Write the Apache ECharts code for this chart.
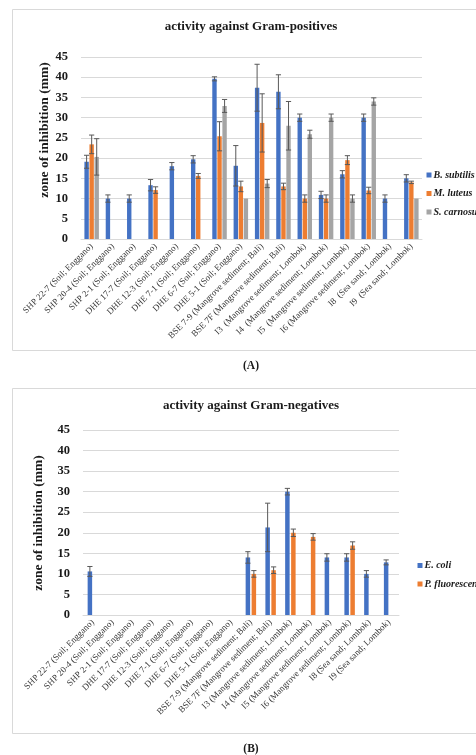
<!DOCTYPE html>
<html>
<head>
<meta charset="utf-8">
<script src="https://cdn.jsdelivr.net/npm/echarts@6/dist/echarts.min.js"></script>
<style>
  html, body { margin: 0; padding: 0; background: #fff; }
  #chart { width: 476px; height: 755px; }
</style>
</head>
<body>
<div id="chart"></div>
<script>
// Strain labels (isolation source; location)
const categoriesA = [
  'SHP 22-7 (Soil; Enggano)', 'SHP 20-4 (Soil; Enggano)', 'SHP 2-1 (Soil; Enggano)',
  'DHE 17-7 (Soil; Enggano)', 'DHE 12-3 (Soil; Enggano)', 'DHE 7-1 (Soil; Enggano)',
  'DHE 6-7 (Soil; Enggano)', 'DHE 5-1 (Soil; Enggano)', 'BSE 7-9 (Mangrove sediment; Bali)',
  'BSE 7F (Mangrove sediment; Bali)', 'I3  (Mangrove sediment; Lombok)', 'I4  (Mangrove sediment; Lombok)',
  'I5  (Mangrove sediment; Lombok)', 'I6 (Mangrove sediment; Lombok)', 'I8  (Sea sand; Lombok)',
  'I9  (Sea sand; Lombok)'
];
const categoriesB = [
  'SHP 22-7 (Soil; Enggano)', 'SHP 20-4 (Soil; Enggano)', 'SHP 2-1 (Soil; Enggano)',
  'DHE 17-7 (Soil; Enggano)', 'DHE 12-3 (Soil; Enggano)', 'DHE 7-1 (Soil; Enggano)',
  'DHE 6-7 (Soil; Enggano)', 'DHE 5-1 (Soil; Enggano)', 'BSE 7-9 (Mangrove sediment; Bali)',
  'BSE 7F (Mangrove sediment; Bali)', 'I3 (Mangrove sediment; Lombok)', 'I4 (Mangrove sediment; Lombok)',
  'I5 (Mangrove sediment; Lombok)', 'I6 (Mangrove sediment; Lombok)', 'I8 (Sea sand; Lombok)',
  'I9 (Sea sand; Lombok)'
];

// Gram-positive test organisms: mean zone (mm) and standard deviation
const subtilis     = [19.1, 10, 10, 13.3, 18, 19.7, 39.6, 18.1, 37.4, 36.4, 30, 10.9, 16, 30, 10, 15];
const subtilisErr  = [1.6, 0.9, 0.9, 1.4, 0.9, 0.9, 0.5, 5, 5.8, 4.2, 0.9, 0.9, 0.9, 0.9, 0.9, 0.9];
const luteus       = [23.4, 0, 0, 12.1, 0, 15.6, 25.4, 13, 28.7, 13, 10, 10, 19.5, 12, 0, 14];
const luteusErr    = [2.3, 0, 0, 0.8, 0, 0.6, 3.6, 1.3, 7.2, 0.8, 0.9, 0.9, 1.1, 0.8, 0, 0.3];
const carnosus     = [20.3, 0, 0, 0, 0, 0, 32.9, 10, 13.7, 28, 25.9, 30, 10, 34, 0, 10];
const carnosusErr  = [4.5, 0, 0, 0, 0, 0, 1.6, 0, 1, 6, 1, 0.9, 0.9, 0.9, 0, 0];

// Gram-negative test organisms
const ecoli        = [10.6, 0, 0, 0, 0, 0, 0, 0, 14, 21.3, 30, 0, 14, 14, 10, 12.8];
const ecoliErr     = [1.2, 0, 0, 0, 0, 0, 0, 0, 1.4, 5.9, 0.8, 0, 0.9, 0.9, 0.8, 0.6];
const fluorescens  = [0, 0, 0, 0, 0, 0, 0, 0, 10, 10.9, 20, 19, 0, 16.9, 0, 0];
const fluorescensErr = [0, 0, 0, 0, 0, 0, 0, 0, 0.8, 0.8, 0.9, 0.8, 0, 0.9, 0, 0];

const yTicks = { min: 0, max: 45, interval: 5 };

const FONT = 'Liberation Serif';
const BLUE = '#4472C4', ORANGE = '#ED7D31', GRAY = '#A5A5A5';
const GRID_LINE = '#d9d9d9';
const ERR_COLOR = '#595959';

// Error-bar renderer that places whiskers over the matching bar in a group
function errorBars(index, count, catGap, barGap) {
  return function (params, api) {
    const err = api.value(2);
    if (!err) return null;
    const cat = api.value(0), val = api.value(1);
    const band = api.size([1, 0])[0];
    const usable = band * (1 - catGap);
    const w = usable / (count + (count - 1) * barGap);
    const x = api.coord([cat, val])[0] - usable / 2 + index * w * (1 + barGap) + w / 2;
    const yHi = api.coord([cat, val + err])[1];
    const yLo = api.coord([cat, Math.max(val - err, 0)])[1];
    const cap = 2.6;
    const style = { stroke: ERR_COLOR, lineWidth: 1 };
    return {
      type: 'group',
      children: [
        { type: 'line', shape: { x1: x, y1: yHi, x2: x, y2: yLo }, style },
        { type: 'line', shape: { x1: x - cap, y1: yHi, x2: x + cap, y2: yHi }, style },
        { type: 'line', shape: { x1: x - cap, y1: yLo, x2: x + cap, y2: yLo }, style }
      ]
    };
  };
}

function errData(vals, errs) {
  return vals.map((v, i) => [i, v, errs[i]]);
}

const GAP_A = 0.32, BARGAP_A = 0.15;
const GAP_B = 0.47, BARGAP_B = 0.33;

function barSeries(name, data, axis, color, catGap, barGap) {
  return {
    name, type: 'bar', xAxisIndex: axis, yAxisIndex: axis, data,
    itemStyle: { color },
    barCategoryGap: (catGap * 100) + '%', barGap: (barGap * 100) + '%',
    animation: false
  };
}
function errSeries(vals, errs, axis, idx, count, catGap, barGap) {
  return {
    type: 'custom', xAxisIndex: axis, yAxisIndex: axis,
    data: errData(vals, errs), encode: { x: 0, y: 1 },
    renderItem: errorBars(idx, count, catGap, barGap),
    z: 5, silent: true, animation: false
  };
}

function xAxisFor(grid, data) {
  return {
    type: 'category', gridIndex: grid, data,
    axisTick: { show: false },
    axisLine: { lineStyle: { color: GRID_LINE, width: 1 } },
    axisLabel: { interval: 0, rotate: 45, margin: 6, fontFamily: FONT, fontSize: 9, color: '#333' }
  };
}
function yAxisFor(grid) {
  return {
    type: 'value', gridIndex: grid, min: yTicks.min, max: yTicks.max, interval: yTicks.interval,
    axisLine: { show: false }, axisTick: { show: false },
    splitLine: { lineStyle: { color: GRID_LINE, width: 1 } },
    axisLabel: { margin: 13, fontFamily: FONT, fontSize: 12.5, fontWeight: 'bold', color: '#1a1a1a' }
  };
}

function label(text, x, y, size, opts) {
  return Object.assign({
    type: 'text', x, y,
    style: { text, fontFamily: FONT, fontSize: size, fontWeight: 'bold', fill: '#1a1a1a',
             textAlign: 'center', textVerticalAlign: 'middle' }
  }, opts || {});
}

const legendText = { fontFamily: FONT, fontSize: 10, fontStyle: 'italic', fontWeight: 'bold', color: '#1a1a1a', padding: [0, 0, 0, -3] };

const chart = echarts.init(document.getElementById('chart'), null, { renderer: 'canvas' });
chart.setOption({
  backgroundColor: '#fff',
  animation: false,
  grid: [
    { left: 81, top: 57, width: 341, height: 182 },
    { left: 83, top: 430, width: 316, height: 185 }
  ],
  xAxis: [xAxisFor(0, categoriesA), xAxisFor(1, categoriesB)],
  yAxis: [yAxisFor(0), yAxisFor(1)],
  legend: [
    {
      data: ['B. subtilis', 'M. luteus', 'S. carnosus'], orient: 'vertical', padding: 0,
      left: 426.5, top: 170, itemWidth: 5, itemHeight: 5, itemGap: 8.5, icon: 'rect',
      textStyle: legendText
    },
    {
      data: ['E. coli', 'P. fluorescens'], orient: 'vertical', padding: 0,
      left: 417.5, top: 560.5, itemWidth: 5, itemHeight: 5, itemGap: 8.5, icon: 'rect',
      textStyle: legendText
    }
  ],
  graphic: [
    { type: 'rect', shape: { x: 12.5, y: 9.5, width: 480, height: 341 },
      style: { fill: null, stroke: GRID_LINE, lineWidth: 1 }, z: -1 },
    { type: 'rect', shape: { x: 12.5, y: 388.5, width: 480, height: 345 },
      style: { fill: null, stroke: GRID_LINE, lineWidth: 1 }, z: -1 },
    label('activity against Gram-positives', 251, 27, 13),
    label('activity against Gram-negatives', 251, 406, 13),
    label('zone of inhibition (mm)', 45, 130, 13.5, { rotation: Math.PI / 2 }),
    label('zone of inhibition (mm)', 39, 523, 13.5, { rotation: Math.PI / 2 }),
    label('(A)', 251, 366, 11.5),
    label('(B)', 251, 749, 11.5)
  ],
  series: [
    barSeries('B. subtilis', subtilis, 0, BLUE, GAP_A, BARGAP_A),
    barSeries('M. luteus', luteus, 0, ORANGE, GAP_A, BARGAP_A),
    barSeries('S. carnosus', carnosus, 0, GRAY, GAP_A, BARGAP_A),
    errSeries(subtilis, subtilisErr, 0, 0, 3, GAP_A, BARGAP_A),
    errSeries(luteus, luteusErr, 0, 1, 3, GAP_A, BARGAP_A),
    errSeries(carnosus, carnosusErr, 0, 2, 3, GAP_A, BARGAP_A),
    barSeries('E. coli', ecoli, 1, BLUE, GAP_B, BARGAP_B),
    barSeries('P. fluorescens', fluorescens, 1, ORANGE, GAP_B, BARGAP_B),
    errSeries(ecoli, ecoliErr, 1, 0, 2, GAP_B, BARGAP_B),
    errSeries(fluorescens, fluorescensErr, 1, 1, 2, GAP_B, BARGAP_B)
  ]
});
</script>
</body>
</html>
